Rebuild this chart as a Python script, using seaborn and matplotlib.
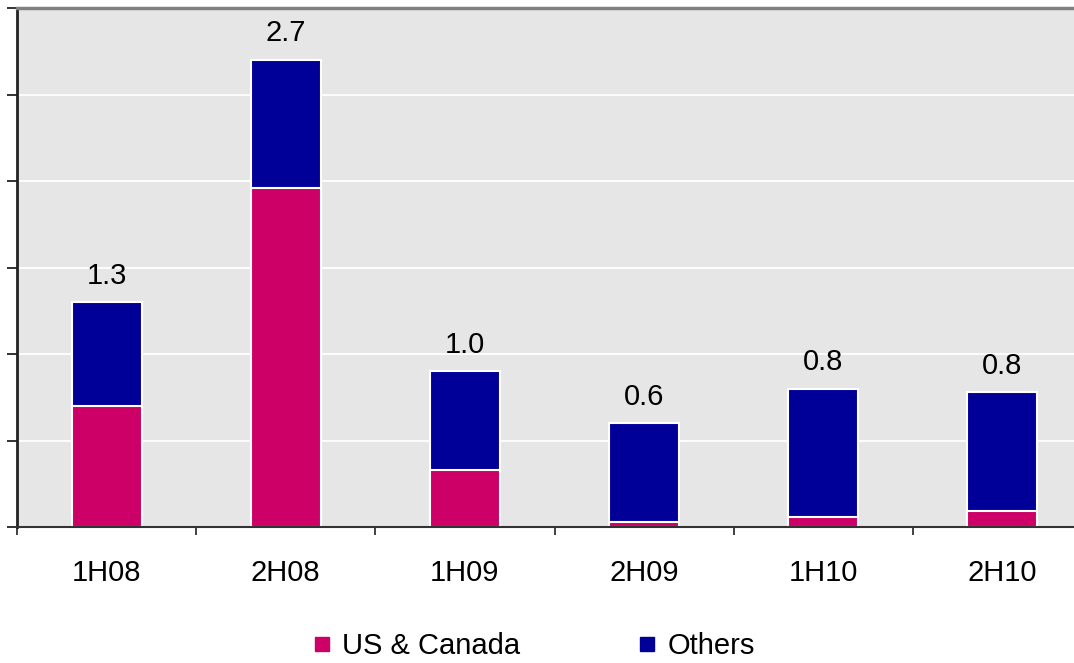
# %% 지역별 반기 실적 (stacked bar)
import numpy as np
import pandas as pd
import seaborn as sns
import matplotlib.pyplot as plt
from matplotlib.lines import Line2D

sns.set_style('darkgrid', {'axes.facecolor': '#e6e6e6', 'grid.color': 'white',
                           'text.color': 'black', 'xtick.color': 'black'})
plt.rcParams['font.family'] = ['Liberation Sans', 'DejaVu Sans']

# %% 1. DATA
periods = ['1H08', '2H08', '1H09', '2H09', '1H10', '2H10']
us_canada = [0.70, 1.96, 0.33, 0.03, 0.06, 0.09]
others = [0.60, 0.74, 0.57, 0.57, 0.74, 0.69]
total_labels = ['1.3', '2.7', '1.0', '0.6', '0.8', '0.8']

PINK = '#cc0066'
BLUE = '#000099'

df = pd.DataFrame({'period': periods, 'us_canada': us_canada, 'others': others})
df['total'] = df['us_canada'] + df['others']

# %% 2. PLOT
fig = plt.figure(figsize=(10.74, 6.63), dpi=100)
ax = fig.add_axes([17 / 1074, 136 / 663, 1075 / 1074, 519 / 663])

# total bar (blue) first, then pink part drawn on top of it
sns.barplot(data=df, x='period', y='total', color=BLUE, saturation=1,
            width=0.39, edgecolor='white', linewidth=1.5, ax=ax)
sns.barplot(data=df, x='period', y='us_canada', color=PINK, saturation=1,
            width=0.39, edgecolor='white', linewidth=1.5, ax=ax)

ax.bar_label(ax.containers[0], labels=total_labels, padding=9, fontsize=21, color='black')

# axes
ax.set_xlim(-0.5, 5.5)
ax.set_ylim(0, 3.0)
ax.set_yticks(np.arange(0, 3.01, 0.5))
ax.set_yticklabels([])
ax.set_xticks(np.arange(-0.5, 6, 1))
ax.set_xticklabels([])
ax.set_xticks(range(len(periods)), minor=True)
ax.set_xticklabels(periods, minor=True, fontsize=21, color='black')
ax.set_xlabel('')
ax.set_ylabel('')
ax.grid(axis='y', color='white', linewidth=1.3)
ax.grid(axis='x', visible=False)
ax.set_axisbelow(True)

ax.tick_params(axis='y', which='major', left=True, direction='out',
               length=7, width=1.3, color='#222222')
ax.tick_params(axis='x', which='major', bottom=True, direction='out',
               length=6, width=1.3, color='#333333')
ax.tick_params(axis='x', which='minor', bottom=True, length=0, pad=23)

for side in ['left', 'bottom', 'top', 'right']:
    ax.spines[side].set_visible(True)
ax.spines['left'].set_color('#222222')
ax.spines['left'].set_linewidth(2)
ax.spines['bottom'].set_color('#333333')
ax.spines['bottom'].set_linewidth(1.5)
ax.spines['top'].set_color('#808080')
ax.spines['top'].set_linewidth(2.5)
ax.spines['right'].set_visible(False)

# legend
handles = [Line2D([], [], linestyle='none', marker='s', markersize=9.5, color=PINK),
           Line2D([], [], linestyle='none', marker='s', markersize=9.5, color=BLUE)]
leg = fig.legend(handles, ['US & Canada', 'Others'], loc='center',
                 bbox_to_anchor=(0.498, 0.026), ncol=2, frameon=False, fontsize=21,
                 handlelength=0.5, handletextpad=0.45, columnspacing=4.1,
                 borderpad=0.1)
for t in leg.get_texts():
    t.set_color('black')

fig.savefig('out.png', dpi=100)
